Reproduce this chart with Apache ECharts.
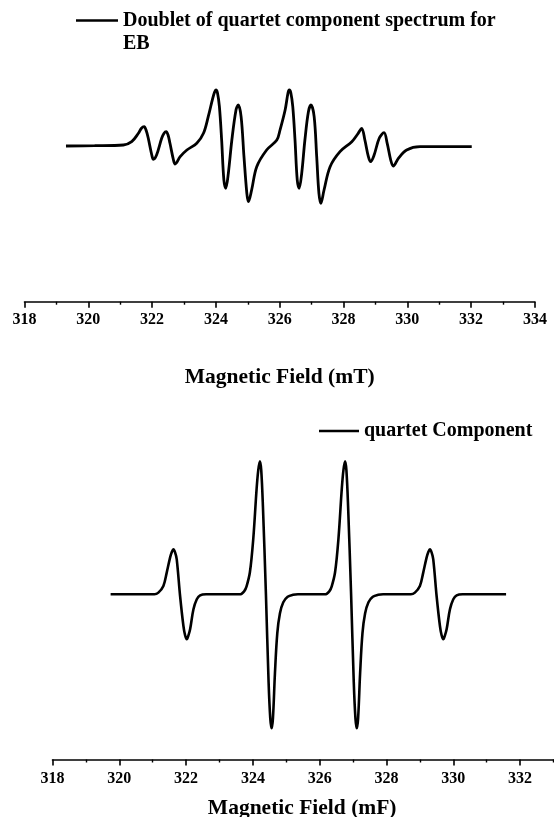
<!DOCTYPE html>
<html>
<head>
<meta charset="utf-8">
<script src="https://cdn.jsdelivr.net/npm/echarts@6/dist/echarts.min.js"></script>
<style>
  html, body { margin: 0; padding: 0; background: #ffffff; }
  #chart { width: 554px; height: 817px; }
</style>
</head>
<body>
<div id="chart"></div>
<script>
// Upper panel: doublet of quartets (field in mT, first-derivative signal, arb. units)
const topField = [
  319.30, 320.20, 321.10, 321.36, 321.57, 321.66, 321.75, 321.82, 321.88, 321.99,
  322.04, 322.14, 322.30, 322.37, 322.44, 322.50, 322.56, 322.67, 322.72, 322.88,
  323.09, 323.40, 323.61, 323.76, 323.90, 323.96, 324.00, 324.05, 324.11, 324.18,
  324.25, 324.31, 324.39, 324.50, 324.63, 324.70, 324.79, 324.88, 324.97, 325.02,
  325.12, 325.28, 325.59, 325.91, 326.01, 326.17, 326.26, 326.30, 326.35, 326.41,
  326.48, 326.55, 326.61, 326.69, 326.79, 326.90, 326.98, 327.08, 327.16, 327.23,
  327.29, 327.39, 327.58, 327.89, 328.26, 328.46, 328.57, 328.67, 328.78, 328.85,
  328.96, 329.12, 329.27, 329.37, 329.48, 329.56, 329.72, 329.98, 330.40, 330.92,
  332.02
];
const topSignal = [
  0, 0.3, 1, 4.3, 12.7, 17.5, 19.3, 15, 7.7, -9,
  -13.3, -9, 7.7, 12.5, 14.3, 11, 2.7, -14, -18, -10.7,
  -4, 2.7, 12.7, 29.3, 47.7, 54, 56, 53, 39.3, 6,
  -34, -42.3, -27.3, 6, 36, 41, 29.3, -10.7, -47.3, -55.7,
  -44, -20.7, -4, 6, 16, 36, 53, 56, 53, 39.3,
  6, -34, -42.3, -27.3, 6, 34.3, 41, 29.3, -10.7, -47.3,
  -57.3, -44, -20.7, -5.7, 4.3, 12.7, 17.7, 6, -10.7, -15.7,
  -9, 7.7, 13.3, 2.7, -14, -20, -12.3, -4, -0.7, -0.7,
  -0.7
];

// Lower panel: quartet component, 1:3:3:1 (field in mF)
const bottomField = [
  319.74, 321.05, 321.17, 321.32, 321.42, 321.52, 321.57, 321.62, 321.67, 321.72,
  321.82, 321.92, 321.97, 322.02, 322.07, 322.12, 322.22, 322.32, 322.42, 322.60,
  323.60, 323.66, 323.74, 323.81, 323.91, 324.01, 324.11, 324.16, 324.21, 324.25,
  324.30, 324.39, 324.47, 324.52, 324.56, 324.60, 324.66, 324.73, 324.81, 324.91,
  325.04, 325.20, 325.35,
  326.15, 326.21, 326.29, 326.36, 326.46, 326.56, 326.66, 326.71, 326.76, 326.80,
  326.85, 326.94, 327.02, 327.07, 327.11, 327.15, 327.21, 327.28, 327.36, 327.46,
  327.59, 327.75, 327.90,
  328.73, 328.85, 329.00, 329.10, 329.20, 329.25, 329.30, 329.35, 329.40, 329.50,
  329.60, 329.65, 329.70, 329.75, 329.80, 329.90, 330.00, 330.10, 330.28, 331.58
];
const bottomSignal = [
  0, 0, 1.7, 8.3, 21.7, 36.7, 42, 45, 42, 35,
  -1.7, -31.7, -41, -45, -41, -35, -15, -5, -1, 0,
  0, 0.5, 3, 8, 22, 55, 105, 124, 133, 124,
  88, 0, -88, -124, -134, -124, -79, -39, -19, -8,
  -2.5, -0.5, 0,
  0, 0.5, 3, 8, 22, 55, 105, 124, 133, 124,
  88, 0, -88, -124, -134, -124, -79, -39, -19, -8,
  -2.5, -0.5, 0,
  0, 1.7, 8.3, 21.7, 36.7, 42, 45, 42, 35, -1.7,
  -31.7, -41, -45, -41, -35, -15, -5, -1, 0, 0
];

const fieldMin = 318;
const fieldMax = 334;
const fieldStep = 2;

const zip = (xs, ys) => xs.map((x, i) => [x, ys[i]]);
const serif = '"Liberation Serif", "Times New Roman", serif';
const ink = '#000';

const axisCommon = {
  type: 'value',
  min: fieldMin,
  max: fieldMax,
  interval: fieldStep,
  splitLine: { show: false },
  axisLine: { show: true, onZero: false, lineStyle: { color: ink, width: 1.6 } },
  axisTick: { show: true, inside: false, length: 6, lineStyle: { color: ink, width: 1.6 } },
  minorTick: { show: true, splitNumber: 2, length: 3, lineStyle: { color: ink, width: 1.4 } },
  axisLabel: { color: ink, fontFamily: serif, fontWeight: 'bold', fontSize: 16, margin: 10 },
  nameLocation: 'middle',
  nameTextStyle: { color: ink, fontFamily: serif, fontWeight: 'bold', fontSize: 21.5 }
};

const legendText = { color: ink, fontFamily: serif, fontWeight: 'bold', fontSize: 20, lineHeight: 23 };

const chart = echarts.init(document.getElementById('chart'), null, { renderer: 'canvas' });

chart.setOption({
  backgroundColor: '#ffffff',
  animation: false,
  legend: [
    {
      data: ['Doublet of quartet component spectrum for EB'],
      // leading blank line keeps the key line level with the first text line
      formatter: () => '\nDoublet of quartet component spectrum for\nEB',
      left: 76, top: -14, padding: 0,
      icon: 'rect', itemWidth: 42, itemHeight: 2.5,
      itemStyle: { color: ink },
      textStyle: legendText
    },
    {
      data: ['quartet Component'],
      left: 319, top: 419.5, padding: 0,
      icon: 'rect', itemWidth: 40, itemHeight: 2.5,
      itemStyle: { color: ink },
      textStyle: legendText
    }
  ],
  grid: [
    { left: 24.5, width: 510.4, top: 60, height: 241.7, outerBoundsMode: 'none', containLabel: false },
    // the lower axis runs on past the right edge of the canvas
    { left: 52.5, width: 534.4, top: 440, height: 319.5, outerBoundsMode: 'none', containLabel: false }
  ],
  xAxis: [
    Object.assign({}, axisCommon, {
      gridIndex: 0,
      name: 'Magnetic Field (mT)',
      nameGap: 65
    }),
    Object.assign({}, axisCommon, {
      gridIndex: 1,
      name: 'Magnetic Field (mF)',
      nameGap: 38,
      axisLabel: Object.assign({}, axisCommon.axisLabel, { margin: 11, showMaxLabel: false }),
      nameTextStyle: Object.assign({}, axisCommon.nameTextStyle, { padding: [0, 35, 0, 0] })
    })
  ],
  yAxis: [
    { type: 'value', gridIndex: 0, min: -155.7, max: 86, show: false, splitLine: { show: false } },
    { type: 'value', gridIndex: 1, min: -165.2, max: 154.3, show: false, splitLine: { show: false } }
  ],
  series: [
    {
      name: 'Doublet of quartet component spectrum for EB',
      type: 'line', xAxisIndex: 0, yAxisIndex: 0,
      data: zip(topField, topSignal),
      showSymbol: false, symbol: 'none', smooth: 0.35,
      lineStyle: { color: ink, width: 2.8 },
      itemStyle: { color: ink }
    },
    {
      name: 'quartet Component',
      type: 'line', xAxisIndex: 1, yAxisIndex: 1,
      data: zip(bottomField, bottomSignal),
      showSymbol: false, symbol: 'none', smooth: 0.35,
      lineStyle: { color: ink, width: 2.6 },
      itemStyle: { color: ink }
    }
  ]
});
</script>
</body>
</html>
